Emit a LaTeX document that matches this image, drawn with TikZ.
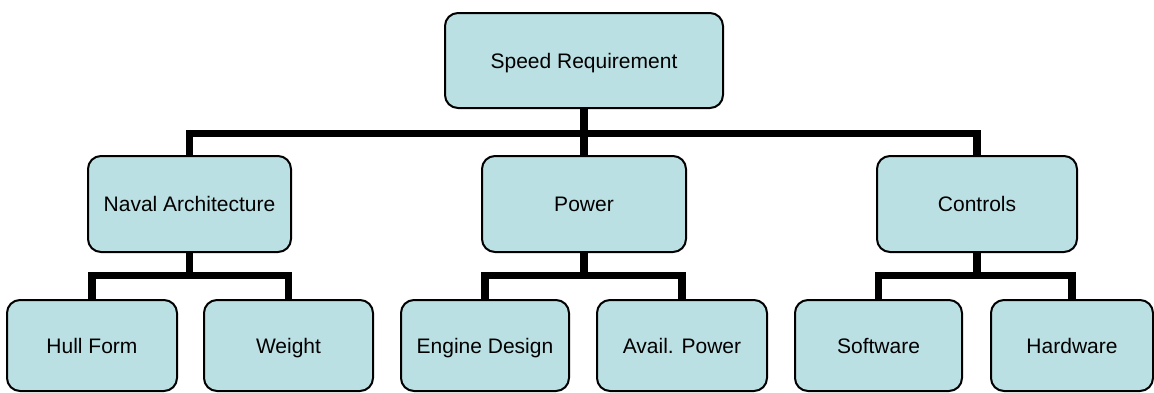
\documentclass[tikz,border=0pt]{standalone}
\usepackage{fontspec}
\setmainfont{Liberation Sans}
\definecolor{boxfill}{HTML}{BBE0E3}
\tikzset{
  orgbox/.style={draw=black, line width=2pt, fill=boxfill, rounded corners=13pt,
    inner sep=0pt, anchor=center, font=\fontsize{21}{25}\selectfont, text=black,
    text height=17pt, text depth=2pt},
  conn/.style={draw=black, line width=7.5pt, line join=miter, line cap=butt},
}
\begin{document}
\begin{tikzpicture}[x=1pt,y=-1pt]
\useasboundingbox (0,0) rectangle (1154,392);
% nodes
\node[orgbox, minimum width=278pt, minimum height=95pt] (top) at (584,60.5) {Speed Requirement};
\node[orgbox, minimum width=203pt, minimum height=96pt] (naval) at (189.5,204) {Naval Architecture};
\node[orgbox, minimum width=204pt, minimum height=96pt] (power) at (584,204) {Power};
\node[orgbox, minimum width=200pt, minimum height=96pt] (controls) at (977,204) {Controls};
\node[orgbox, minimum width=170pt, minimum height=91pt] (hull) at (92,345.5) {Hull Form};
\node[orgbox, minimum width=169pt, minimum height=91pt] (weight) at (288.5,345.5) {Weight};
\node[orgbox, minimum width=168pt, minimum height=91pt] (engine) at (485,345.5) {Engine Design};
\node[orgbox, minimum width=170pt, minimum height=91pt] (avail) at (682,345.5) {Avail. Power};
\node[orgbox, minimum width=167pt, minimum height=91pt] (software) at (878.5,345.5) {Software};
\node[orgbox, minimum width=162pt, minimum height=91pt] (hardware) at (1072,345.5) {Hardware};
% bar junctions
\coordinate (tb) at (584,133.5);
\coordinate (nb) at (189.5,275.5);
\coordinate (pb) at (584,275.5);
\coordinate (cb) at (977,275.5);
% connectors
\draw[conn] (top.south) -- (power.north);
\draw[conn] (naval.north) |- (tb) -| (controls.north);
\draw[conn] (naval.south) -- (nb);
\draw[conn] (hull.north) |- (nb) -| (weight.north);
\draw[conn] (power.south) -- (pb);
\draw[conn] (engine.north) |- (pb) -| (avail.north);
\draw[conn] (controls.south) -- (cb);
\draw[conn] (software.north) |- (cb) -| (hardware.north);
\end{tikzpicture}
\end{document}
